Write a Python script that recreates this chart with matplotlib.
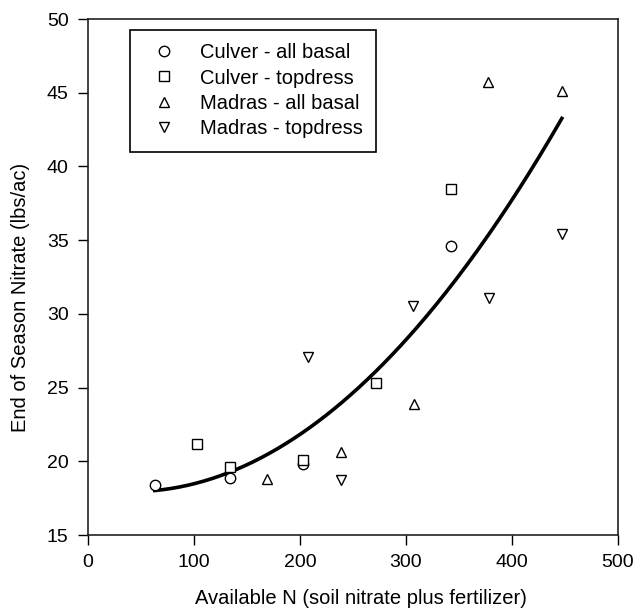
import matplotlib
matplotlib.use("Agg")
import matplotlib.pyplot as plt
import numpy as np

plt.rcParams['font.family'] = ['Liberation Sans', 'DejaVu Sans']

# Data
culver_basal_x = [63, 134, 203, 342]
culver_basal_y = [18.4, 18.85, 19.8, 34.6]
culver_top_x = [103, 134, 203, 272, 342]
culver_top_y = [21.2, 19.6, 20.1, 25.3, 38.5]
madras_basal_x = [169, 239, 308, 377, 447]
madras_basal_y = [18.8, 20.65, 23.9, 45.7, 45.15]
madras_top_x = [208, 239, 307, 378, 447]
madras_top_y = [27.1, 18.7, 30.5, 31.05, 35.4]

# Fitted curve values
curve_x = [68, 132, 203, 283, 357, 401, 447]
curve_y = [18.05, 19.4, 21.6, 27.0, 33.6, 37.7, 43.2]

fig = plt.figure(figsize=(6.39, 6.15), dpi=100)
ax = fig.add_axes([88/639, 1-535/615, (618-88)/639, (535-19)/615])

fs = 14.5
kw = dict(linestyle='none', markerfacecolor='white', markeredgecolor='black',
          markeredgewidth=1.0, markersize=7.5)
ax.plot(culver_basal_x, culver_basal_y, marker='o', label='Culver - all basal', **kw)
ax.plot(culver_top_x, culver_top_y, marker='s', label='Culver - topdress', **kw)
ax.plot(madras_basal_x, madras_basal_y, marker='^', label='Madras - all basal', **kw)
ax.plot(madras_top_x, madras_top_y, marker='v', label='Madras - topdress', **kw)

coef = np.polyfit(curve_x, curve_y, 2)
xs = np.linspace(min(curve_x) - 5, max(curve_x), 200)
ax.plot(xs, np.polyval(coef, xs), color='black', linewidth=2.6, zorder=1)

ax.set_xlim(0, 500)
ax.set_ylim(15, 50)
ax.set_xticks([0, 100, 200, 300, 400, 500])
ax.set_yticks([15, 20, 25, 30, 35, 40, 45, 50])
ax.tick_params(direction='out', length=7, width=1, labelsize=14, colors='black', pad=7)
for s in ax.spines.values():
    s.set_linewidth(1.2)
    s.set_color('#222222')

ax.set_xlabel('Available N (soil nitrate plus fertilizer)', fontsize=fs)
ax.set_ylabel('End of Season Nitrate (lbs/ac)', fontsize=fs)
ax.xaxis.set_label_coords(0.515, -0.105)
ax.yaxis.set_label_coords(-0.11, 0.46)

leg = ax.legend(loc='upper left', bbox_to_anchor=((130-88)/530, (535-30)/516),
                borderaxespad=0, fancybox=False, framealpha=1, edgecolor='black',
                fontsize=fs, handlelength=2.1, handletextpad=0.75,
                borderpad=0.65, labelspacing=0.32)
leg.get_frame().set_linewidth(1.2)

fig.savefig('out.png', dpi=100)
